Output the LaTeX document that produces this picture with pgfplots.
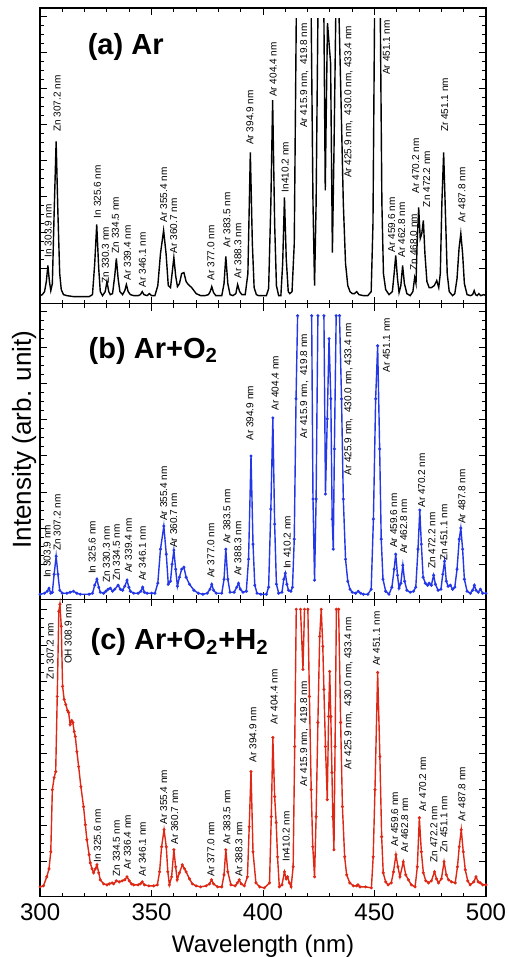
\documentclass[border=0pt]{standalone}
\usepackage{fontspec}
\setmainfont{Liberation Sans}
\usepackage{pgfplots}
\pgfplotsset{compat=1.18}
\definecolor{specblue}{RGB}{35,55,230}
\definecolor{specred}{RGB}{220,40,20}

% rotated peak label, text starts at (x,y)
\newcommand{\lab}[3]{\node[rotate=90,anchor=west,inner sep=0pt,font=\fontsize{5}{6}\selectfont] at (axis cs:#1,#2) {#3};}

\tikzset{ptitle/.style={anchor=west, inner sep=0pt, font=\fontsize{14.5}{16}\selectfont\bfseries}}
\pgfplotsset{
  panel/.style={
    scale only axis, width=222.5pt, xmin=300, xmax=500, ymin=0,
    xtick={300,350,...,500}, minor x tick num=4,
    ytick={35,71,...,287}, minor y tick num=3,
    yticklabels={}, tick pos=both, tick align=inside,
    major tick length=3.5pt, minor tick length=2pt,
    tick style={black, line width=0.5pt},
    axis line style={line width=0.6pt},
    clip=false, unbounded coords=jump, restrict y to domain=0:293,
  },
}

\begin{document}
\begin{tikzpicture}
% (a) Ar  -- saturated lines leave the detector range (400 = off scale)
\begin{axis}[panel, name=a, height=147.5pt, ymax=295, xticklabels={}]
\addplot[black, line width=0.7pt] coordinates {
(300,8)(301,9)(302,12)(302.8,22)(303.5,38)(304.2,22)(304.8,13)(305.5,20)(306.3,90)(307.2,162)(308,90)(308.8,30)(309.5,14)(310.5,9)(312,8)(315,7)(320,7)(322,7)(323.5,9)(324.5,40)(325.4,79)(326.3,35)(327,12)(328,8)(329.2,12)(330,22)(330.8,12)(331.5,9)(332.5,10)(333.5,28)(334.2,45)(335,25)(335.8,12)(337,9)(338,13)(338.7,19)(339.5,12)(340.5,9)(342,8)(344,8)(345,9)(345.8,12)(346.6,9)(348,8)(349,10)(350,8)
(351.5,8)(352.8,18)(354,50)(355.4,73)(356.5,50)(357.5,18)(358.5,16)(359.2,30)(360,46)(360.8,28)(361.6,17)(362.5,20)(363.5,30)(364.5,31)(365.5,22)(366.5,19)(368,16)(370,10)(372,8)(374,8)(375.5,9)(376.3,12)(377,17)(377.8,11)(378.8,8)(380,8)(381.5,8)(382.5,20)(383.3,47)(384.2,20)(385.2,9)(386.5,8)(387.8,10)(388.6,19)(389.5,12)(390.5,9)(392,9)(393.2,30)(394.3,151)(395.2,60)(396,16)(397,9)(398,8)
(401.5,8)(402.5,15)(403.5,100)(404.3,203)(405.2,80)(406,18)(407,8)(408,8)(408.8,40)(409.6,106)(410.4,45)(411.3,12)(412,10)(413,12)(414,60)(414.9,285)(418,400)(421.6,285)(422.4,100)(423.1,18)(423.8,100)(424.6,285)(426,400)(427.3,285)(427.9,113)(428.4,200)(428.9,280)(430.3,240)(431.1,51)(431.8,150)(432.6,285)(433.3,400)(434.1,285)(435,200)(436,100)(437,40)(438,18)(439,12)(440,10)(441,10)(442,12)(443,9)(445,8)(447,8)
(448.5,12)(449.3,80)(450,285)(451.3,400)(452.6,285)(453.3,100)(454,30)(455,14)(456.5,9)(458,12)(458.8,30)(459.5,48)(460.3,25)(461,11)(461.8,18)(462.6,38)(463.4,20)(464.5,10)(466,8)(467.2,12)(468,26)(468.6,20)(469.1,60)(469.8,96)(470.5,65)(471.2,70)(471.9,83)(472.6,50)(473.5,22)(474.5,16)(475.5,16)(476.8,18)(477.9,23)(478.8,16)(479.5,30)(480.2,100)(481,151)(481.8,90)(482.6,30)(483.5,12)(485,8)(486,10)(487,25)(487.9,55)(488.7,70)(489.5,50)(490.3,20)(491.5,9)(493,8)(494,9)(494.7,13)(495.3,9)(496,8)(496.8,10)(497.6,8)(499,9)(500,8)
};
\node[ptitle] at (axis cs:321.2,256) {(a) Ar};
\lab{303.6}{46}{In 303.9 nm}
\lab{307.7}{171}{Zn 307.2 nm}
\lab{325.7}{85}{In 325.6 nm}
\lab{329.3}{20}{Zn 330.3 nm}
\lab{333.8}{50}{Zn 334.5 nm}
\lab{339.2}{23}{Ar 339.4 nm}
\lab{345.9}{16}{Ar 346.1 nm}
\lab{355.4}{81}{Ar 355.4 nm}
\lab{359.9}{50}{Ar 360.7 nm}
\lab{376.6}{23}{Ar 377.0 nm}
\lab{383.8}{56}{Ar 383.5 nm}
\lab{388.7}{25}{Ar 388.3 nm}
\lab{394.1}{158}{Ar 394.9 nm}
\lab{404.5}{206}{Ar 404.4 nm}
\lab{409.9}{111}{In410.2 nm}
\lab{418.5}{175}{Ar 415.9 nm, \ 419.8 nm}
\lab{438.3}{125}{Ar 425.9 nm, \ 430.0 nm, 433.4 nm}
\lab{455.4}{228}{Ar 451.1 nm}
\lab{457.7}{51}{Ar 459.6 nm}
\lab{462.2}{46}{Ar 462.8 nm}
\lab{467.6}{33}{Zn 468.0 nm}
\lab{468.5}{110}{Ar 470.2 nm}
\lab{473.4}{96}{Zn 472.2 nm}
\lab{481.5}{171}{Zr 451.1 nm}
\lab{489.2}{81}{Ar 487.8 nm}
\end{axis}

% (b) Ar+O2
\begin{axis}[panel, name=b, at={(a.south west)}, anchor=north west, height=147.5pt, ymax=295, xticklabels={}]
\addplot[specblue, line width=0.7pt, mark=*, mark size=0.35pt] coordinates {
(300,5)(302,6)(303.2,8)(304,11)(304.8,6)(305.5,7)(306.3,25)(307.2,43)(308,25)(308.8,9)(310,6)(312,6)(313.5,7)(315,8)(316.5,6)(318,5)(322,5)(323.5,6)(324.5,14)(325.5,20)(326.3,12)(327,7)(328.5,6)(329.5,8)(330.5,10)(331.5,11)(332.5,8)(333.5,10)(335,14)(336,10)(337,9)(338,13)(339,19)(339.8,12)(340.5,8)(342,6)(344,6)(345.2,8)(346,12)(346.8,7)(348,6)(350,6)
(351.5,6)(352.8,16)(354,50)(355.5,73)(356.6,45)(357.5,15)(358.5,18)(359.2,35)(360,49)(360.8,30)(361.6,13)(362.5,22)(363.5,30)(364.5,32)(365.5,22)(367,15)(369,9)(371,6)(373,5)(375,6)(376.2,10)(377,15)(377.8,9)(379,6)(381.5,6)(382.5,20)(383.3,50)(384.2,20)(385.2,7)(387,7)(388.2,12)(389,16)(389.8,10)(391,7)(392.5,8)(393.5,40)(394.6,143)(395.5,55)(396.3,14)(397.3,6)(399,5)
(401.5,5)(402.5,12)(403.5,90)(404.4,181)(405.2,75)(406,15)(407,6)(408.5,7)(409.3,20)(410,26)(410.7,15)(411.4,9)(412.5,8)(413.2,12)(414,60)(414.8,200)(415.5,283)(418.5,400)(421.8,283)(422.4,100)(423.1,19)(423.8,100)(424.6,283)(426,400)(427.3,283)(428,105)(428.8,180)(429.6,260)(430.4,200)(431,80)(431.5,50)(432,150)(432.8,283)(433.5,400)(434.3,283)(435.2,200)(436,100)(437,40)(438,18)(439,10)(440,7)(441.5,6)(442.7,8)(443.8,6)(445,5)(447,5)
(448.5,10)(449.5,80)(450.5,200)(451.4,253)(452.3,150)(453,60)(453.8,20)(455,8)(456.5,5)(457.8,12)(458.8,30)(459.5,45)(460.3,24)(461,11)(461.8,16)(462.7,34)(463.5,18)(464.5,9)(466,7)(467.5,8)(468.5,12)(469.5,50)(470.3,89)(471,55)(471.8,22)(472.8,16)(473.8,14)(474.5,16)(475.5,14)(476.5,24)(477.3,15)(478.5,9)(479.8,10)(480.6,25)(481.4,38)(482.2,18)(483,13)(484,14)(485,10)(486,12)(487,30)(488,60)(488.7,71)(489.5,50)(490.3,20)(491.5,8)(493,6)(494,9)(494.8,14)(495.5,9)(496.5,7)(497.5,10)(498.5,6)(500,6)
};
\node[ptitle] at (axis cs:321.6,248) {(b) Ar+O\textsubscript{2}};
\lab{303.2}{21}{In 303.9 nm}
\lab{307.7}{48}{Zn 307.2 nm}
\lab{323.4}{25}{In 325.6 nm}
\lab{329.7}{16}{Zn 330.3 nm}
\lab{334.2}{18}{Zn 334.5 nm}
\lab{339.6}{26}{Ar 339.4 nm}
\lab{345.9}{18}{Ar 346.1 nm}
\lab{355.4}{78}{Ar 355.4 nm}
\lab{359.9}{51}{Ar 360.7 nm}
\lab{376.6}{21}{Ar 377.0 nm}
\lab{383.8}{55}{Ar 383.5 nm}
\lab{388.7}{23}{Ar 388.3 nm}
\lab{394.1}{158}{Ar 394.9 nm}
\lab{405.4}{188}{Ar 404.4 nm}
\lab{410.8}{30}{In 410.2 nm}
\lab{418.5}{160}{Ar 415.9 nm, \ 419.8 nm}
\lab{438.3}{123}{Ar 425.9 nm, \ 430.0 nm, 433.4 nm}
\lab{455.4}{226}{Ar 451.1 nm}
\lab{458.6}{51}{Ar 459.6 nm}
\lab{463.1}{45}{Ar 462.8 nm}
\lab{471.2}{91}{Ar 470.2 nm}
\lab{475.7}{30}{Zn 472.2 nm}
\lab{481.1}{38}{Zn 451.1 nm}
\lab{489.2}{75}{Ar 487.8 nm}
\end{axis}

% (c) Ar+O2+H2
\begin{axis}[panel, name=c, at={([yshift=-1pt]b.south west)}, anchor=north west, height=148.5pt, ymax=297,
  xticklabel style={font=\fontsize{12}{14}\selectfont}, /pgf/number format/assume math mode=true,
  xlabel={Wavelength (nm)}, xlabel style={font=\fontsize{12}{14}\selectfont}]
\addplot[specred, line width=0.7pt, mark=*, mark size=0.35pt] coordinates {
(300,10)(301.5,11)(303,20)(304,28)(304.8,45)(305.5,107)(306.3,119)(307,125)(307.7,200)(308.4,285)(308.9,292)(309.5,270)(310.1,210)(310.8,197)(311.5,192)(312.3,186)(312.8,184)(313.5,172)(314.2,176)(314.7,174)(315.3,165)(315.8,160)(316.5,145)(317.3,130)(318.3,110)(319.5,90)(320.3,72)(321,57)(322,42)(322.5,34)(323.3,28)(324,24)(324.8,28)(325.5,32)(326.3,24)(327,17)(328.5,13)(330,12)(331,13)(332.3,14)(333,13)(334.2,16)(335.5,15)(336.8,16)(338,17)(339,20)(340,16)(341,13)(342,12)(344,12)(345,13)(345.8,15)(346.8,12)(348.8,11)
(351,11)(352.6,12)(353.6,25)(354.5,50)(355.6,67)(356.6,50)(357.3,25)(358,12)(359,20)(360,47)(360.8,30)(361.5,17)(362.5,24)(363.8,32)(364.8,28)(365.5,25)(367,18)(368.3,13)(370,11)(372,10)(374.5,11)(376,13)(376.9,17)(377.8,13)(379.6,10)(381.5,10)(382.5,22)(383.3,47)(384.2,25)(385.6,12)(387.5,11)(388.5,14)(389.3,17)(390.2,13)(391.6,11)(393,20)(393.8,70)(394.6,125)(395.5,45)(396.8,14)(398.5,10)
(400.6,9)(402.9,14)(403.7,80)(404.4,159)(405.2,100)(405.9,74)(406.5,40)(407.3,10)(408.5,12)(409.6,25)(410.4,18)(411,20)(411.8,14)(412.6,10)(413.5,30)(414.2,150)(414.9,287)(415.9,400)(416.8,287)(417.9,227)(418.6,287)(419.3,400)(420.1,287)(420.8,200)(421.6,107)(422.3,50)(423.1,20)(423.8,80)(424.6,174)(425.4,260)(426.1,287)(426.8,250)(427.3,207)(428,150)(428.8,97)(429.4,180)(429.9,225)(430.4,180)(430.9,124)(431.3,80)(431.8,47)(432.3,150)(432.9,287)(433.4,400)(433.9,287)(434.8,174)(435.6,90)(436.6,40)(437.5,22)(438.9,14)(440.5,11)(442,11)(442.6,12)(443.5,10)(446,10)
(448.6,9)(449.4,40)(450.2,107)(451.4,224)(452.4,140)(453.2,60)(453.9,24)(455,15)(456.1,12)(457.5,14)(458.5,25)(459.6,42)(460.5,30)(461.4,20)(462.9,35)(464,22)(465.2,17)(466.5,12)(468.2,10)(469.2,30)(470.1,79)(471,45)(471.9,24)(473,16)(474.2,14)(475.5,16)(476.9,25)(477.8,18)(478.7,14)(480,18)(481.2,35)(482.2,22)(483.2,17)(484.5,15)(486.2,14)(487.2,30)(488,50)(488.9,67)(489.8,45)(490.7,27)(491.8,16)(492.9,12)(494.5,15)(495.5,20)(496.5,15)(497.4,14)(498.5,12)(500,12)
};
\node[ptitle] at (axis cs:322.5,254) {(c) Ar+O\textsubscript{2}+H\textsubscript{2}};
\lab{304.5}{217}{Zn 307.2 nm}
\lab{312.6}{232}{OH 308.9 nm}
\lab{325.7}{34}{In 325.6 nm}
\lab{334.2}{20}{Zn 334.5 nm}
\lab{339.2}{27}{Ar 336.4 nm}
\lab{345.9}{20}{Ar 346.1 nm}
\lab{355.4}{72}{Ar 355.4 nm}
\lab{360.4}{52}{Ar 360.7 nm}
\lab{376.6}{20}{Ar 377.0 nm}
\lab{383.8}{52}{Ar 383.5 nm}
\lab{389.2}{20}{Ar 388.3 nm}
\lab{395.5}{134}{Ar 394.9 nm}
\lab{405.0}{172}{Ar 404.4 nm}
\lab{410.4}{35}{In410.2 nm}
\lab{418.5}{110}{Ar 415.9 nm, \ 419.8 nm}
\lab{438.3}{127}{Ar 425.9 nm, \ 430.0 nm, 433.4 nm}
\lab{450.9}{230}{Ar 451.1 nm}
\lab{459.0}{50}{Ar 459.6 nm}
\lab{463.5}{44}{Ar 462.8 nm}
\lab{471.6}{85}{Ar 470.2 nm}
\lab{476.6}{34}{Zn 472.2 nm}
\lab{481.1}{44}{Zn 451.1 nm}
\lab{489.2}{75}{Ar 487.8 nm}
\end{axis}

\node[rotate=90, font=\fontsize{13}{15}\selectfont] at ([xshift=-8pt,yshift=6pt]b.west) {Intensity (arb. unit)};
\pgfresetboundingbox
\path[use as bounding box] ([shift={(-20pt,4pt)}]a.north west) rectangle ([shift={(11pt,-30pt)}]c.south east);
\end{tikzpicture}
\end{document}
